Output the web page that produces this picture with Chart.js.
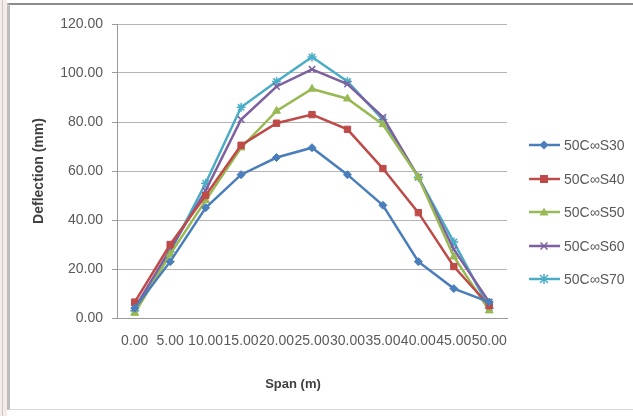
<!DOCTYPE html>
<html>
<head>
<meta charset="utf-8">
<script src="https://cdn.jsdelivr.net/npm/chart.js@4.4.1/dist/chart.umd.min.js"></script>
<style>
  html, body { margin: 0; padding: 0; background: #fff; }
  #wrap { position: absolute; left: 0; top: 0; width: 633px; height: 416px; overflow: hidden;
          background: linear-gradient(to right, #f2ecea 0px, #f2ecea 2px, #c8c8c8 2px, #c8c8c8 3px, #f7ebe6 3px, #f7ebe6 7px, #fff 7px); }
  #frame { position: absolute; left: 7px; top: 3px; width: 626px; height: 404px; background: #fff;
           border-left: 3px solid #bdbdbd; border-top: 2px solid #8c8c8c; border-bottom: 1px solid #d9d9d9; }
  #c { position: absolute; left: 0; top: 0; }
  #legend { position: absolute; left: 528px; top: 137px; font-family: 'Liberation Sans', Arial, sans-serif;
            font-size: 14px; color: #595959; }
  .item { height: 33.5px; display: flex; align-items: flex-start; }
  .item svg { margin-right: 3px; }
  .item span { line-height: 16px; }
  #xtitle { position: absolute; left: 193px; width: 200px; top: 376px; text-align: center;
            font-family: 'Liberation Sans', Arial, sans-serif; font-size: 13px; font-weight: bold; color: #404040; }
</style>
</head>
<body>
<div id="wrap">
  <div id="frame"></div>
  <canvas id="c" width="633" height="416"></canvas>
  <div id="legend"></div>
  <div id="xtitle"></div>
</div>
<script>
const categories = ['0.00','5.00','10.00','15.00','20.00','25.00','30.00','35.00','40.00','45.00','50.00'];
const seriesNames = ['50C\u221eS30','50C\u221eS40','50C\u221eS50','50C\u221eS60','50C\u221eS70'];
const s30 = [4, 23, 45, 58.5, 65.5, 69.5, 58.5, 46, 23, 12, 6.5];
const s40 = [6.5, 30, 50, 70.5, 79.5, 83, 77, 61, 43, 21, 5];
const s50 = [2, 26, 48, 69.5, 84.5, 93.5, 89.5, 79, 57.5, 25, 3];
const s60 = [4, 28, 52, 81, 94.5, 101.5, 95.5, 82, 57.5, 28, 6.5];
const s70 = [3, 27, 55, 86, 96.5, 106.5, 96.5, 81, 57.5, 31, 4];
const yTicks = [0, 20, 40, 60, 80, 100, 120];
const xTitle = 'Span (m)';
const yTitle = 'Deflection (mm)';

const colors = ['#4a7ebb', '#be4b48', '#98b954', '#7d60a0', '#4bacc6'];
const markers = ['rectRot', 'rect', 'triangle', 'crossRot', 'star'];
const radii = [4, 4.5, 4.5, 4.5, 4.5];
const values = [s30, s40, s50, s60, s70];

const FONT = "'Liberation Sans', Arial, sans-serif";

const datasets = values.map((v, i) => ({
  label: seriesNames[i],
  data: v,
  borderColor: colors[i],
  backgroundColor: colors[i],
  borderWidth: 2.5,
  pointStyle: markers[i],
  pointRadius: radii[i],
  pointBorderWidth: (markers[i] === 'crossRot' || markers[i] === 'star') ? 1.5 : 1,
  pointBorderColor: colors[i],
  pointBackgroundColor: colors[i],
  tension: 0,
  fill: false
}));

new Chart(document.getElementById('c'), {
  type: 'line',
  data: { labels: categories, datasets },
  options: {
    responsive: false,
    animation: false,
    devicePixelRatio: 1,
    layout: { padding: { left: 27, right: 126, top: 24, bottom: 20 } },
    plugins: { legend: { display: false }, tooltip: { enabled: false } },
    scales: {
      x: {
        offset: true,
        grid: { display: false, drawTicks: false },
        border: { display: true, color: '#9a9a9a', width: 1 },
        ticks: { autoSkip: false, maxRotation: 0, minRotation: 0, padding: 15,
                 color: '#595959', font: { family: FONT, size: 14 } },
        title: { display: false },
        afterFit: s => { s.height = 78; }
      },
      y: {
        min: 0, max: 120,
        afterBuildTicks: s => { s.ticks = yTicks.map(v => ({ value: v })); },
        grid: { color: '#b3b3b3', lineWidth: 1, tickLength: 5, drawTicks: true, tickColor: '#9a9a9a' },
        border: { display: true, color: '#9a9a9a', width: 1 },
        ticks: { padding: 9, color: '#595959', font: { family: FONT, size: 14 },
                 callback: v => Number(v).toFixed(2) },
        title: { display: true, text: yTitle, color: '#404040',
                 font: { family: FONT, size: 14, weight: 'bold' }, padding: { top: 4, bottom: 4 } },
        afterFit: s => { s.width = 90; }
      }
    }
  }
});

document.getElementById('xtitle').textContent = xTitle;

// HTML legend
const legend = document.getElementById('legend');
function markerSvg(i) {
  const c = colors[i];
  let m = '';
  const cx = 16, cy = 8;
  if (markers[i] === 'rectRot') m = `<polygon points="${cx},${cy-4.5} ${cx+4.5},${cy} ${cx},${cy+4.5} ${cx-4.5},${cy}" fill="${c}"/>`;
  else if (markers[i] === 'rect') m = `<rect x="${cx-4}" y="${cy-4}" width="8" height="8" fill="${c}"/>`;
  else if (markers[i] === 'triangle') m = `<polygon points="${cx},${cy-4.5} ${cx+4.5},${cy+3.5} ${cx-4.5},${cy+3.5}" fill="${c}"/>`;
  else if (markers[i] === 'crossRot') m = `<path d="M${cx-3.5},${cy-3.5}L${cx+3.5},${cy+3.5}M${cx+3.5},${cy-3.5}L${cx-3.5},${cy+3.5}" stroke="${c}" stroke-width="1.5"/>`;
  else m = `<path d="M${cx-4},${cy-4}L${cx+4},${cy+4}M${cx+4},${cy-4}L${cx-4},${cy+4}M${cx},${cy-5}L${cx},${cy+5}" stroke="${c}" stroke-width="1.5"/>`;
  return `<svg width="33" height="16"><line x1="1" y1="${cy}" x2="32" y2="${cy}" stroke="${c}" stroke-width="2.5"/>${m}</svg>`;
}
seriesNames.forEach((n, i) => {
  const d = document.createElement('div');
  d.className = 'item';
  d.innerHTML = markerSvg(i) + '<span>' + n + '</span>';
  legend.appendChild(d);
});
</script>
</body>
</html>
